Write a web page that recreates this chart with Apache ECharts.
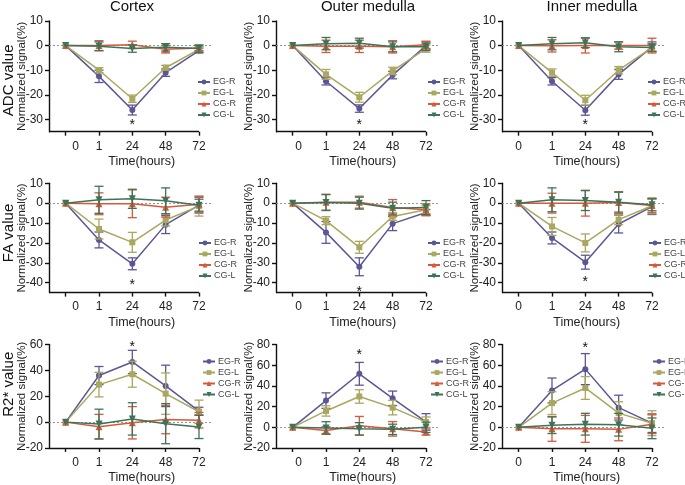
<!DOCTYPE html>
<html><head><meta charset="utf-8">
<script src="https://cdn.jsdelivr.net/npm/echarts@6/dist/echarts.min.js"></script>
<style>html,body{margin:0;padding:0;background:#fff}#c{width:685px;height:485px}</style>
</head><body><div id="c"></div>
<script>
const timeLabels = ['0', '1', '24', '48', '72'];
const seriesNames = ['EG-R', 'EG-L', 'CG-R', 'CG-L'];
const regionTitles = ['Cortex', 'Outer medulla', 'Inner medulla'];
const rowTitles = ['ADC value', 'FA value', 'R2* value'];

// ADC (rows: EG-R, EG-L, CG-R, CG-L)
const adcCortexMean = [[0,-12.5,-26.2,-11,-2],[0,-10,-21.6,-9,-1.5],[0,0,0.3,-1.5,-1],[0,-0.3,-1.2,-0.7,-1.2]];
const adcCortexErr  = [[0,2.5,2,1.5,1],[0,1,1.5,1,1],[0,2,1.5,1.5,1],[0,1.8,1.5,1.5,1.5]];
const adcOuterMean  = [[0,-14.5,-25.6,-12,0],[0,-11.7,-21,-10.3,-1.2],[0,-0.3,-0.3,-0.5,0.3],[0,0.8,1,-0.5,-0.5]];
const adcOuterErr   = [[0,1.5,1.5,1.5,1.5],[0,2,2,1.5,1.5],[0,2.5,2.5,2.5,1.5],[0,2.5,2,2,1.5]];
const adcInnerMean  = [[0,-14.5,-26.3,-11.7,-0.5],[0,-11,-22.2,-10,-0.8],[0,-0.1,0,0,0],[0,0.8,1.2,-0.5,-0.8]];
const adcInnerErr   = [[0,1.5,2,2,2],[0,1.5,2,1.5,1.5],[0,2.5,3,1.5,3],[0,2.5,2,2,1.5]];
// FA
const faCortexMean = [[0,-18.5,-30.5,-10.8,-1],[0,-13,-19.7,-8.5,-1.5],[0,-0.3,-0.3,-2,-0.5],[0,1.7,2.2,1.2,-1]];
const faCortexErr  = [[0,4,3,4.5,4],[0,5,5,3,5],[0,5.5,7,5,4],[0,6.8,4.8,6.5,3]];
const faOuterMean  = [[0,-14.7,-32,-10.3,-4.7],[0,-8.8,-22.2,-6.7,-3.3],[0,0.5,0.5,-2.2,-3.3],[0,0.3,0,-2.5,-2.2]];
const faOuterErr   = [[0,5.5,4.5,3.5,1.5],[0,2,3,2,2],[0,4,3,4,3],[0,4,3,3,3.5]];
const faInnerMean  = [[0,-17.5,-29.7,-10.5,-1.7],[0,-11.7,-20,-8.3,-1.3],[0,0,0,0.3,-1.2],[0,1.7,1.3,0.5,-0.8]];
const faInnerErr   = [[0,3,3.5,4.5,4],[0,4.5,4.5,2.5,4],[0,5,6.5,5.5,3.5],[0,6,5,5,3]];
// R2*
const r2CortexMean = [[0,36,46.5,28,8.5],[0,29,37,22,8],[0,-3.5,-0.5,2,1.5],[0,-1.5,2.5,-1.2,-3.7]];
const r2CortexErr  = [[0,7,9,16,3],[0,9.5,10,16,9],[0,9.5,12.5,11,6],[0,11.5,12.5,15.5,9]];
const r2OuterMean  = [[0,25.8,51.7,28,5.2],[0,15.8,29.8,19,5],[0,-3,1.5,-1.5,-4.5],[0,-0.6,-1.5,-2,0]];
const r2OuterErr   = [[0,7.5,11,7,8],[0,5,6.5,7,5],[0,3.5,9,7,3],[0,6,6,5,5]];
const r2InnerMean  = [[0,35.6,56.2,19,4],[0,23.4,38,13.7,4],[0,-1.5,-1.5,-2,3],[0,2,3,2.5,-1]];
const r2InnerErr   = [[0,12,15,12,9],[0,11,11,11,12],[0,12,13,11,9],[0,8,10.5,11,10]];

// y ranges and tick labels per panel
const yMin = [-35, -35, -35, -45, -45, -45, -20, -20, -20];
const yMax = [10, 10, 10, 10, 10, 10, 60, 80, 80];
const yTicks = [
  [-30,-20,-10,0,10],[-30,-20,-10,0,10],[-30,-20,-10,0,10],
  [-40,-30,-20,-10,0,10],[-40,-30,-20,-10,0,10],[-40,-30,-20,-10,0,10],
  [-20,0,20,40,60],[-20,0,20,40,60,80],[-20,0,20,40,60,80]
];
// significance asterisk at 24 h
const starY = [-31, -31, -31, -39.7, -43.5, -38.2, 60, 72.6, 79];

const panelMeans = [adcCortexMean, adcOuterMean, adcInnerMean, faCortexMean, faOuterMean, faInnerMean, r2CortexMean, r2OuterMean, r2InnerMean];
const panelErrs  = [adcCortexErr, adcOuterErr, adcInnerErr, faCortexErr, faOuterErr, faInnerErr, r2CortexErr, r2OuterErr, r2InnerErr];

const colors = ['#5b5797', '#aaa75f', '#d5593a', '#3e7357'];
const symbols = ['circle', 'rect', 'triangle', 'path://M0,0 L10,0 L5,9 Z'];
const symbolSizes = [6, 6, 7, 7];
const FONT = 'Liberation Sans, Arial, sans-serif';

const colLeft = [49, 276, 502];
const unitW = 33.33;
const gridW = unitW * 4.9;
const rowTop = [21, 183.3, 344.5];
const rowH = [110.7, 109.3, 109.5];
const zeroLabelPad = [20, 12, 0];
const timeNamePad = [22, 10, 6];
const legendLeft = [[197, 427, 647], [198, 427, 648], [202, 430, 652]];
const legendTop = [77.5, 238.5, 357];
const rowLabelPad = [[0, 8, 0, 0], [0, 0, 0, 10], [0, 0, 0, 24]];

const grids = [], xAxes = [], yAxes = [], series = [], legends = [];
for (let p = 0; p < 9; p++) {
  const r = Math.floor(p / 3), c = p % 3;
  grids.push({ left: colLeft[c], top: rowTop[r], width: gridW, height: rowH[r], containLabel: false });
  xAxes.push({
    type: 'value', gridIndex: p, min: -0.5, max: 4.4,
    axisLine: { show: false, onZero: false },
    axisTick: { show: true, customValues: [0, 1, 2, 3, 4], length: 4, lineStyle: { color: '#111', width: 1.4 } },
    axisLabel: {
      customValues: [0, 1, 2, 3, 4], margin: 8.5, fontSize: 12, color: '#222', fontFamily: FONT,
      formatter: v => v === 0 ? '{o|' + timeLabels[0] + '}' : timeLabels[v],
      rich: { o: { padding: [0, 0, 0, zeroLabelPad[c]], fontSize: 12, fontFamily: FONT, color: '#222' } }
    },
    splitLine: { show: false },
    name: 'Time(hours)', nameLocation: 'middle', nameGap: 23, nameMoveOverlap: false,
    nameTextStyle: { fontSize: 12.5, color: '#222', fontFamily: FONT, padding: [0, 0, 0, timeNamePad[c]] }
  });
  yAxes.push({
    type: 'value', gridIndex: p, min: yMin[p], max: yMax[p],
    axisLine: { show: true, onZero: false, lineStyle: { color: '#111', width: 1.4 } },
    axisTick: { show: true, customValues: yTicks[p], length: 4, lineStyle: { color: '#111', width: 1.4 } },
    axisLabel: { customValues: yTicks[p], margin: 6, fontSize: 12, color: '#222', fontFamily: FONT },
    splitLine: { show: false },
    name: 'Normalized signal(%)', nameLocation: 'middle', nameGap: 21, nameMoveOverlap: false,
    nameTextStyle: { fontSize: 11.5, color: '#222', fontFamily: FONT }
  });
  legends.push({
    data: seriesNames, orient: 'vertical', left: legendLeft[r][c], top: legendTop[r],
    itemWidth: 12, itemHeight: 6, itemGap: 2, padding: 0, selectedMode: false,
    textStyle: { fontSize: 9, color: '#444', fontFamily: FONT, padding: [0, 0, 0, -2] }
  });
  const means = panelMeans[p], errs = panelErrs[p];
  for (let s = 0; s < 4; s++) {
    const col = colors[s];
    series.push({
      type: 'custom', xAxisIndex: p, yAxisIndex: p, z: 2 + s, silent: true,
      data: means[s].map((v, i) => [i, v - errs[s][i], v + errs[s][i]]).filter((d, i) => errs[s][i] > 0),
      encode: { x: 0, y: [1, 2] },
      renderItem: (params, api) => {
        const x = api.value(0);
        const lo = api.coord([x, api.value(1)]), hi = api.coord([x, api.value(2)]);
        const w = 4.5;
        const st = { stroke: col, lineWidth: 1.3, fill: null };
        return { type: 'group', children: [
          { type: 'line', shape: { x1: lo[0], y1: lo[1], x2: hi[0], y2: hi[1] }, style: st },
          { type: 'line', shape: { x1: lo[0] - w, y1: lo[1], x2: lo[0] + w, y2: lo[1] }, style: st },
          { type: 'line', shape: { x1: hi[0] - w, y1: hi[1], x2: hi[0] + w, y2: hi[1] }, style: st }
        ] };
      }
    });
    const line = {
      type: 'line', name: seriesNames[s], xAxisIndex: p, yAxisIndex: p, z: 2 + s,
      data: means[s].map((v, i) => [i, v]),
      symbol: symbols[s], symbolSize: symbolSizes[s], showSymbol: true,
      itemStyle: { color: col }, lineStyle: { color: col, width: 1.5 },
      animation: false
    };
    if (s === 0) {
      line.markLine = {
        silent: true, symbol: 'none', animation: false, z: 1, label: { show: false },
        data: [
          [{ coord: [-0.5, yMin[p]], lineStyle: { color: '#111', width: 1.4, type: 'solid' } }, { coord: [4, yMin[p]] }],
          { yAxis: 0, lineStyle: { color: '#888', width: 0.9, type: [2, 2] } }
        ]
      };
      line.markPoint = {
        silent: true, animation: false, symbol: 'circle', symbolSize: 1,
        itemStyle: { color: 'rgba(0,0,0,0)' },
        label: { show: true, formatter: '*', fontSize: 14, color: '#111', fontFamily: FONT, offset: [0, 3] },
        data: [{ coord: [2, starY[p]] }]
      };
    }
    series.push(line);
  }
}
// row titles as names of extra (invisible) y axes on the first column
for (let r = 0; r < 3; r++) {
  const p = r * 3;
  yAxes.push({
    type: 'value', gridIndex: p, min: yMin[p], max: yMax[p], position: 'left',
    axisLine: { show: false, onZero: false }, axisTick: { show: false },
    axisLabel: { show: false }, splitLine: { show: false },
    name: rowTitles[r], nameLocation: 'middle', nameGap: 32.5, nameMoveOverlap: false,
    nameTextStyle: { fontSize: 15, color: '#111', fontFamily: FONT, padding: rowLabelPad[r] }
  });
}

const graphics = [];
const titleX = [132, 368, 592];
regionTitles.forEach((t, i) => graphics.push({
  type: 'text', x: titleX[i], y: 7,
  style: { text: t, fontSize: 15, fontFamily: FONT, fill: '#111', align: 'center', verticalAlign: 'middle' }
}));

const chart = echarts.init(document.getElementById('c'), null, { renderer: 'canvas' });
chart.setOption({
  backgroundColor: '#fff',
  animation: false,
  textStyle: { fontFamily: FONT },
  grid: grids, xAxis: xAxes, yAxis: yAxes, legend: legends,
  series: series, graphic: graphics
});
</script></body></html>
